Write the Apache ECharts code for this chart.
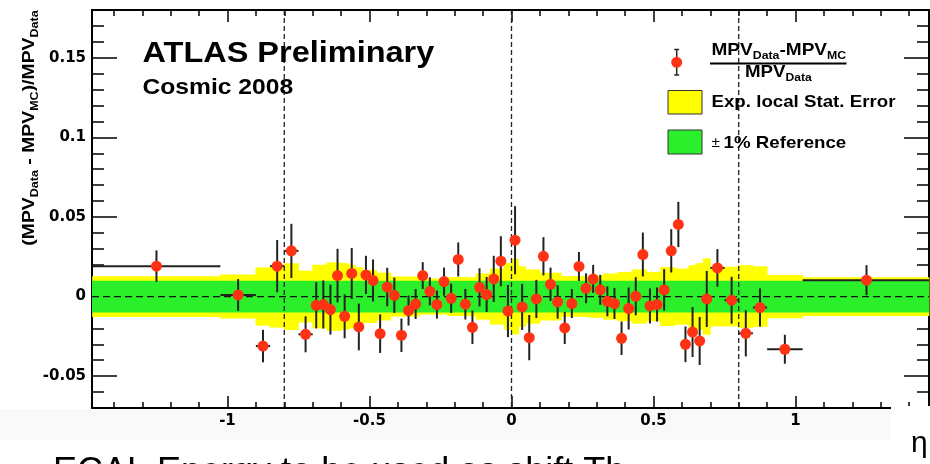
<!DOCTYPE html>
<html><head><meta charset="utf-8">
<script src="https://cdn.jsdelivr.net/npm/echarts@6/dist/echarts.min.js"></script>
<style>html,body{margin:0;padding:0;background:#fff;}#c{width:930px;height:464px;}</style>
</head><body><div id="c"></div>
<script>
// ---------------- data ----------------
const etaCenter = [-1.25, -0.9625, -0.875, -0.825, -0.775, -0.725,
  -0.6875, -0.6625, -0.6375, -0.6125, -0.5875, -0.5625, -0.5375, -0.5125, -0.4875, -0.4625,
  -0.4375, -0.4125, -0.3875, -0.3625, -0.3375, -0.3125, -0.2875, -0.2625, -0.2375, -0.2125,
  -0.1875, -0.1625, -0.1375, -0.1125, -0.0875, -0.0625, -0.0375, -0.0125, 0.0125, 0.0375,
  0.0625, 0.0875, 0.1125, 0.1375, 0.1625, 0.1875, 0.2125, 0.2375, 0.2625, 0.2875,
  0.3125, 0.3375, 0.3625, 0.3875, 0.4125, 0.4375, 0.4625, 0.4875, 0.5125, 0.5375,
  0.5625, 0.5875, 0.6125, 0.6375, 0.6625, 0.6875,
  0.725, 0.775, 0.825, 0.875, 0.9625, 1.25];
const etaHalfWidth = [0.225, 0.0625, 0.025, 0.025, 0.025, 0.025,
  0.0125, 0.0125, 0.0125, 0.0125, 0.0125, 0.0125, 0.0125, 0.0125, 0.0125, 0.0125,
  0.0125, 0.0125, 0.0125, 0.0125, 0.0125, 0.0125, 0.0125, 0.0125, 0.0125, 0.0125,
  0.0125, 0.0125, 0.0125, 0.0125, 0.0125, 0.0125, 0.0125, 0.0125, 0.0125, 0.0125,
  0.0125, 0.0125, 0.0125, 0.0125, 0.0125, 0.0125, 0.0125, 0.0125, 0.0125, 0.0125,
  0.0125, 0.0125, 0.0125, 0.0125, 0.0125, 0.0125, 0.0125, 0.0125, 0.0125, 0.0125,
  0.0125, 0.0125, 0.0125, 0.0125, 0.0125, 0.0125,
  0.025, 0.025, 0.025, 0.025, 0.0625, 0.225];
const mpvDiff = [0.0191, 0.0010, -0.0311, 0.0191, 0.0287, -0.0237,
  -0.0055, -0.0050, -0.0082, 0.0132, -0.0124, 0.0145, -0.0191, 0.0136, 0.0101, -0.0233,
  0.0060, 0.0008, -0.0243, -0.0088, -0.0047, 0.0132, 0.0033, -0.0050, 0.0094, -0.0011,
  0.0233, -0.0048, -0.0193, 0.0058, 0.0013, 0.0111, 0.0222, -0.0091, 0.0354, -0.0065,
  -0.0258, -0.0015, 0.0253, 0.0077, -0.0034, -0.0197, -0.0044, 0.0189, 0.0052, 0.0111,
  0.0042, -0.0030, -0.0044, -0.0262, -0.0075, 0.0002, 0.0264, -0.0059, -0.0050, 0.0042,
  0.0287, 0.0453, -0.0300, -0.0223, -0.0279, -0.0015,
  0.0180, -0.0023, -0.0231, -0.0069, -0.0331, 0.0103];
const mpvErr = [0.0099, 0.0100, 0.0102, 0.0164, 0.0170, 0.0113,
  0.0145, 0.0151, 0.0157, 0.0168, 0.0138, 0.0160, 0.0147, 0.0120, 0.0132, 0.0121,
  0.0121, 0.0111, 0.0105, 0.0094, 0.0094, 0.0084, 0.0088, 0.0088, 0.0088, 0.0092,
  0.0107, 0.0096, 0.0105, 0.0120, 0.0110, 0.0145, 0.0157, 0.0164, 0.0214, 0.0145,
  0.0142, 0.0120, 0.0120, 0.0105, 0.0105, 0.0101, 0.0091, 0.0091, 0.0094, 0.0088,
  0.0094, 0.0094, 0.0097, 0.0105, 0.0132, 0.0120, 0.0138, 0.0110, 0.0107, 0.0130,
  0.0136, 0.0142, 0.0112, 0.0157, 0.0151, 0.0176,
  0.0118, 0.0147, 0.0145, 0.0120, 0.0091, 0.0094];
const statErr = [0.0128, 0.0138, 0.0183, 0.0195, 0.0210, 0.0163,
  0.0200, 0.0200, 0.0215, 0.0215, 0.0210, 0.0200, 0.0185, 0.0166, 0.0166, 0.0150,
  0.0150, 0.0126, 0.0126, 0.0126, 0.0126, 0.0113, 0.0113, 0.0113, 0.0113, 0.0122,
  0.0122, 0.0122, 0.0122, 0.0145, 0.0145, 0.0176, 0.0176, 0.0210, 0.0237, 0.0190,
  0.0170, 0.0170, 0.0150, 0.0150, 0.0150, 0.0128, 0.0128, 0.0128, 0.0128, 0.0134,
  0.0134, 0.0145, 0.0145, 0.0155, 0.0155, 0.0170, 0.0170, 0.0155, 0.0155, 0.0185,
  0.0185, 0.0176, 0.0176, 0.0197, 0.0210, 0.0240,
  0.0187, 0.0187, 0.0197, 0.0190, 0.0136, 0.0122];
const refBandEta = [-1.5, 1.5];
const refBandHalf = 0.01;
const dashedEta = [-0.8, 0, 0.8];
const dashedY = [0];
const xMajorTicks = [-1, -0.5, 0, 0.5, 1];
const xMinorTicks = [-1.4, -1.3, -1.2, -1.1, -0.9, -0.8, -0.7, -0.6, -0.4, -0.3, -0.2, -0.1,
  0.1, 0.2, 0.3, 0.4, 0.6, 0.7, 0.8, 0.9, 1.1, 1.2, 1.3, 1.4];
const yMajorTicks = [-0.05, 0, 0.05, 0.1, 0.15];
const yMinorTicks = [-0.06, -0.04, -0.03, -0.02, -0.01, 0.01, 0.02, 0.03, 0.04, 0.06, 0.07,
  0.08, 0.09, 0.11, 0.12, 0.13, 0.14, 0.16, 0.17];
const X_MIN = -1.477, X_MAX = 1.470, Y_MIN = -0.07, Y_MAX = 0.18;

// ---------------- styles ----------------
const BOLD = '"Liberation Sans", Arial, Helvetica, sans-serif';
const AXFONT = '"DejaVu Sans", sans-serif';
const RED = '#ff3214';
const GREEN = '#2cef2c';

const chart = echarts.init(document.getElementById('c'), null, { renderer: 'canvas' });

function clampX(v) { return Math.max(X_MIN, Math.min(X_MAX, v)); }

function xAxisDef(pos, ticks, len, label, line) {
  return {
    type: 'value', min: X_MIN, max: X_MAX, position: pos, offset: 0,
    axisLine: { show: line, onZero: false, lineStyle: { color: '#000', width: 2 } },
    axisTick: { show: true, inside: true, length: len, customValues: ticks, lineStyle: { color: '#000', width: 1.5 } },
    axisLabel: label ? { show: true, customValues: ticks, margin: 6, color: '#000', fontFamily: AXFONT, fontWeight: 'bold', fontSize: 15 } : { show: false },
    splitLine: { show: false }, minorTick: { show: false }
  };
}
function yAxisDef(pos, ticks, len, label, line) {
  return {
    type: 'value', min: Y_MIN, max: Y_MAX, position: pos, offset: 0,
    axisLine: { show: line, onZero: false, lineStyle: { color: '#000', width: 2 } },
    axisTick: { show: true, inside: true, length: len, customValues: ticks, lineStyle: { color: '#000', width: 1.5 } },
    axisLabel: label ? { show: true, customValues: ticks, margin: 6, color: '#000', fontFamily: AXFONT, fontWeight: 'bold', fontSize: 15 } : { show: false },
    splitLine: { show: false }, minorTick: { show: false }
  };
}

const bandData = etaCenter.map((c, i) => [c, etaHalfWidth[i], statErr[i]]);
const pointData = etaCenter.map((c, i) => [c, mpvDiff[i], etaHalfWidth[i], mpvErr[i]]);

const rich = {
  m: { fontSize: 17, fontWeight: 'bold', fontFamily: BOLD, lineHeight: 22, verticalAlign: 'middle', fill: '#000', color: '#000' },
  s: { fontSize: 11, fontWeight: 'bold', fontFamily: BOLD, lineHeight: 13, verticalAlign: 'bottom', fill: '#000', color: '#000' }
};

function txt(x, y, text, size, opts) {
  opts = opts || {};
  return {
    type: 'text', x: x, y: y, scaleX: opts.sx || 1, z: opts.z || 50,
    style: {
      text: text, fontSize: size, fontWeight: opts.weight || 'bold', fontFamily: opts.family || BOLD,
      fill: '#000', align: opts.align || 'left', textAlign: opts.align || 'left',
      verticalAlign: opts.va || 'middle', textVerticalAlign: opts.va || 'middle'
    }
  };
}

const option = {
  animation: false,
  backgroundColor: '#fff',
  grid: { left: 92, right: 1, top: 10, bottom: 56, containLabel: false },
  xAxis: [
    xAxisDef('bottom', xMajorTicks, 12, true, true),
    xAxisDef('bottom', xMinorTicks, 6, false, false),
    xAxisDef('top', xMajorTicks, 12, false, true),
    xAxisDef('top', xMinorTicks, 6, false, false)
  ],
  yAxis: [
    yAxisDef('left', yMajorTicks, 25, true, true),
    yAxisDef('left', yMinorTicks, 12, false, false),
    yAxisDef('right', yMajorTicks, 25, false, true),
    yAxisDef('right', yMinorTicks, 12, false, false)
  ],
  series: [
    { // yellow expected stat error band
      type: 'custom', name: 'Exp. local Stat. Error', z: 1, silent: true,
      data: bandData,
      renderItem: function (params, api) {
        const c = api.value(0), hw = api.value(1), e = api.value(2);
        const p1 = api.coord([clampX(c - hw), e]);
        const p2 = api.coord([clampX(c + hw), -e]);
        return { type: 'rect', shape: { x: p1[0] - 0.4, y: p1[1], width: p2[0] - p1[0] + 0.8, height: p2[1] - p1[1] },
          style: { fill: '#ffff00' } };
      }
    },
    { // green +-1% reference band
      type: 'custom', name: '± 1% Reference', z: 2, silent: true,
      data: [[refBandEta[0], refBandEta[1], refBandHalf]],
      renderItem: function (params, api) {
        const p1 = api.coord([clampX(api.value(0)), api.value(2)]);
        const p2 = api.coord([clampX(api.value(1)), -api.value(2)]);
        return { type: 'rect', shape: { x: p1[0], y: p1[1], width: p2[0] - p1[0], height: p2[1] - p1[1] },
          style: { fill: GREEN } };
      }
    },
    { // vertical dashed lines
      type: 'custom', z: 3, silent: true,
      data: dashedEta.map(v => [v, 0]),
      renderItem: function (params, api) {
        const p1 = api.coord([api.value(0), Y_MAX]);
        const p2 = api.coord([api.value(0), Y_MIN]);
        return { type: 'line', shape: { x1: p1[0], y1: p1[1], x2: p2[0], y2: p2[1] },
          style: { stroke: '#222', lineWidth: 1.3, lineDash: [5, 3] } };
      }
    },
    { // horizontal dashed line
      type: 'custom', z: 3, silent: true,
      data: dashedY.map(v => [0, v]),
      renderItem: function (params, api) {
        const p1 = api.coord([X_MIN, api.value(1)]);
        const p2 = api.coord([X_MAX, api.value(1)]);
        return { type: 'line', shape: { x1: p1[0], y1: p1[1], x2: p2[0], y2: p2[1] },
          style: { stroke: '#111', lineWidth: 1.3, lineDash: [7, 4] } };
      }
    },
    { // error bars
      type: 'custom', z: 4, silent: true,
      data: pointData,
      renderItem: function (params, api) {
        const x = api.value(0), y = api.value(1), xe = api.value(2), ye = api.value(3);
        const a = api.coord([x, y + ye]), b = api.coord([x, y - ye]);
        const l = api.coord([clampX(x - xe), y]), r = api.coord([clampX(x + xe), y]);
        const st = { stroke: '#222', lineWidth: 2 };
        return { type: 'group', children: [
          { type: 'line', shape: { x1: a[0], y1: a[1], x2: b[0], y2: b[1] }, style: st },
          { type: 'line', shape: { x1: l[0], y1: l[1], x2: r[0], y2: r[1] }, style: st }
        ] };
      }
    },
    { // markers
      type: 'scatter', name: 'MPV', z: 5, silent: true,
      data: pointData.map(d => [d[0], d[1]]),
      symbol: 'circle', symbolSize: 11,
      itemStyle: { color: RED, opacity: 1 },
      emphasis: { disabled: true }
    }
  ],
  graphic: [
    { type: 'rect', z: -10, shape: { x: 0, y: 409, width: 891, height: 31 }, style: { fill: '#f9f9f9' } },
    { type: 'rect', z: 100, shape: { x: 891, y: 406, width: 39, height: 58 }, style: { fill: '#ffffff' } },
    txt(911, 444, 'η', 30, { weight: 'normal', z: 110 }),
    txt(53, 455, 'ECAL Energy to be used as shift Th', 36, { weight: 'normal', va: 'top', z: 110 }),
    // titles
    txt(142.5, 54.3, 'ATLAS Preliminary', 29, { sx: 1.12 }),
    txt(142.5, 87.5, 'Cosmic 2008', 22, { sx: 1.12 }),
    // y axis title
    {
      type: 'text', x: 29, y: 128, rotation: Math.PI / 2, scaleX: 1.14, z: 50,
      style: { text: '{m|(MPV}{s|Data}{m| - MPV}{s|MC}{m|)/MPV}{s|Data}', rich: rich,
        align: 'center', textAlign: 'center', verticalAlign: 'middle', textVerticalAlign: 'middle' }
    },
    // legend: data entry
    { type: 'line', z: 50, shape: { x1: 676.7, y1: 49.5, x2: 676.7, y2: 75 }, style: { stroke: '#262626', lineWidth: 1.5 } },
    { type: 'line', z: 50, shape: { x1: 674.2, y1: 49.5, x2: 679.2, y2: 49.5 }, style: { stroke: '#262626', lineWidth: 1.5 } },
    { type: 'line', z: 50, shape: { x1: 674.2, y1: 75, x2: 679.2, y2: 75 }, style: { stroke: '#262626', lineWidth: 1.5 } },
    { type: 'circle', z: 51, shape: { cx: 676.7, cy: 62.3, r: 5.5 }, style: { fill: RED } },
    {
      type: 'text', x: 711.5, y: 50.5, scaleX: 1.12, z: 50,
      style: { text: '{m|MPV}{s|Data}{m|-MPV}{s|MC}', rich: rich, align: 'left', textAlign: 'left', verticalAlign: 'middle', textVerticalAlign: 'middle' }
    },
    { type: 'line', z: 50, shape: { x1: 710, y1: 63.5, x2: 846.5, y2: 63.5 }, style: { stroke: '#000', lineWidth: 2 } },
    {
      type: 'text', x: 745, y: 72.8, scaleX: 1.1, z: 50,
      style: { text: '{m|MPV}{s|Data}', rich: rich, align: 'left', textAlign: 'left', verticalAlign: 'middle', textVerticalAlign: 'middle' }
    },
    // legend: yellow
    { type: 'rect', z: 50, shape: { x: 668, y: 90.5, width: 34, height: 23.5 }, style: { fill: '#ffff00', stroke: '#333', lineWidth: 1 } },
    txt(711.5, 102.8, 'Exp. local Stat. Error', 17, { sx: 1.1 }),
    // legend: green
    { type: 'rect', z: 50, shape: { x: 668, y: 130, width: 34, height: 24 }, style: { fill: GREEN, stroke: '#333', lineWidth: 1 } },
    {
      type: 'text', x: 711.5, y: 143.2, scaleX: 1.1, z: 50,
      style: { text: '{p|±} {m|1% Reference}', rich: {
          p: { fontSize: 14, fontWeight: 'normal', fontFamily: BOLD, fill: '#000', color: '#000' },
          m: { fontSize: 17, fontWeight: 'bold', fontFamily: BOLD, fill: '#000', color: '#000' } },
        align: 'left', textAlign: 'left', verticalAlign: 'middle', textVerticalAlign: 'middle' }
    }
  ]
};
chart.setOption(option);
</script>
</body></html>
